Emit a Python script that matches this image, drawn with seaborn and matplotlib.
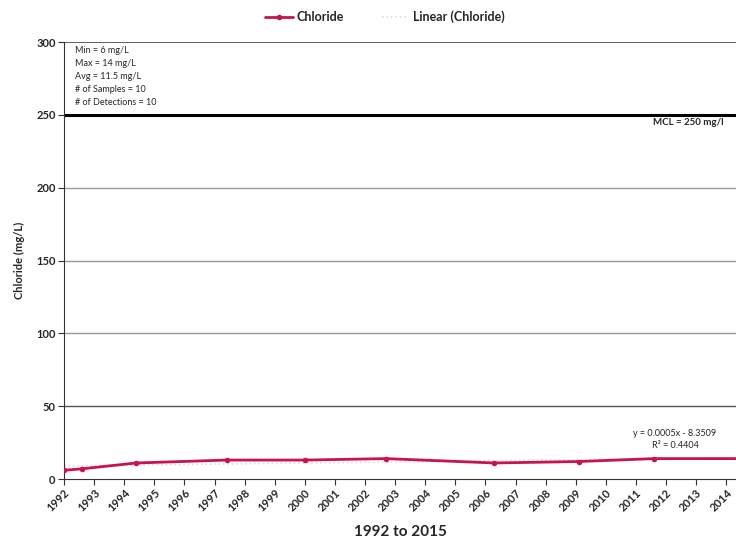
import matplotlib
matplotlib.use("Agg")
import matplotlib.pyplot as plt
import seaborn as sns
import numpy as np
import pandas as pd

# data
sample_year = [1992.0, 1992.6, 1994.4, 1997.4, 2000.0, 2002.7, 2006.3, 2009.1, 2011.6, 2015.0]
chloride = [6, 7, 11, 13, 13, 14, 11, 12, 14, 14]
year_ticks = list(range(1992, 2015))
y_ticks = [0, 50, 100, 150, 200, 250, 300]
mcl = 250
stats_lines = ["Min = 6 mg/L", "Max = 14 mg/L", "Avg = 11.5 mg/L",
               "# of Samples = 10", "# of Detections = 10"]
trend_label = "y = 0.0005x - 8.3509\nR\u00b2 = 0.4404"

df = pd.DataFrame({"year": sample_year, "chloride": chloride})

sns.set_style("white")
plt.rcParams["font.family"] = ["Lato", "DejaVu Sans"]

fig = plt.figure(figsize=(7.36, 5.42), dpi=100)
ax = fig.add_axes([64/736, 1-479/542, 1-64/736, (479-42)/542])

x0 = 1992.0
px_per_year = 30.1
x1 = x0 + (736-64)/px_per_year
ax.set_xlim(x0, x1)
ax.set_ylim(0, 300)

for yv in [50, 100, 150, 200]:
    ax.axhline(yv, color="#9a9a9a" if yv != 50 else "#555555", lw=1.0, zorder=1)
ax.axhline(300, color="#444444", lw=1.2, zorder=1)
ax.axhline(mcl, color="black", lw=2.2, zorder=2)

sns.regplot(data=df, x="year", y="chloride", scatter=False, ci=None, ax=ax,
            truncate=False, line_kws=dict(color="#e8d6dc", lw=1.2, ls=":"),
            label="Linear (Chloride)")
sns.lineplot(data=df, x="year", y="chloride", ax=ax, color="#c8144a", lw=2,
             marker="o", markersize=4, markeredgewidth=0, label="Chloride", zorder=3)

for sp in ["top", "right"]:
    ax.spines[sp].set_visible(False)
ax.spines["left"].set_color("#333333")
ax.spines["bottom"].set_color("#333333")

ax.set_yticks(y_ticks)
ax.set_yticklabels([str(v) for v in y_ticks], fontsize=8, fontweight="bold")
ax.set_xticks(year_ticks)
ax.set_xticklabels([str(v) for v in year_ticks], rotation=45, ha="right",
                   rotation_mode="anchor", fontsize=8, fontweight="bold")
ax.tick_params(axis="both", length=4, color="#333333", direction="out", pad=2)
ax.tick_params(axis="x", bottom=True)
ax.tick_params(axis="y", left=True)

ax.set_xlabel("1992 to 2015", fontsize=11, fontweight="bold", labelpad=8)
ax.set_ylabel("Chloride (mg/L)", fontsize=8, fontweight="bold", labelpad=8)

ax.text(0.016, 0.99, "\n".join(stats_lines), transform=ax.transAxes, va="top",
        ha="left", fontsize=6.5, linespacing=1.55)
ax.text(x0 + (653-64)/px_per_year, mcl - 2, "MCL = 250 mg/l", va="top", ha="left",
        fontsize=7, fontweight="bold")
ax.text(x0 + (675-64)/px_per_year, 20, trend_label, va="bottom", ha="center",
        fontsize=6.5, linespacing=1.4)

h, l = ax.get_legend_handles_labels()
order = [l.index("Chloride"), l.index("Linear (Chloride)")]
ax.legend([h[i] for i in order], [l[i] for i in order], loc="center",
          bbox_to_anchor=(385/736, 1-17/542), bbox_transform=fig.transFigure,
          ncol=2, frameon=False, prop=dict(size=9, weight="bold"),
          handlelength=2.2, columnspacing=3, handletextpad=0.3)

fig.savefig("out.png", dpi=100)
